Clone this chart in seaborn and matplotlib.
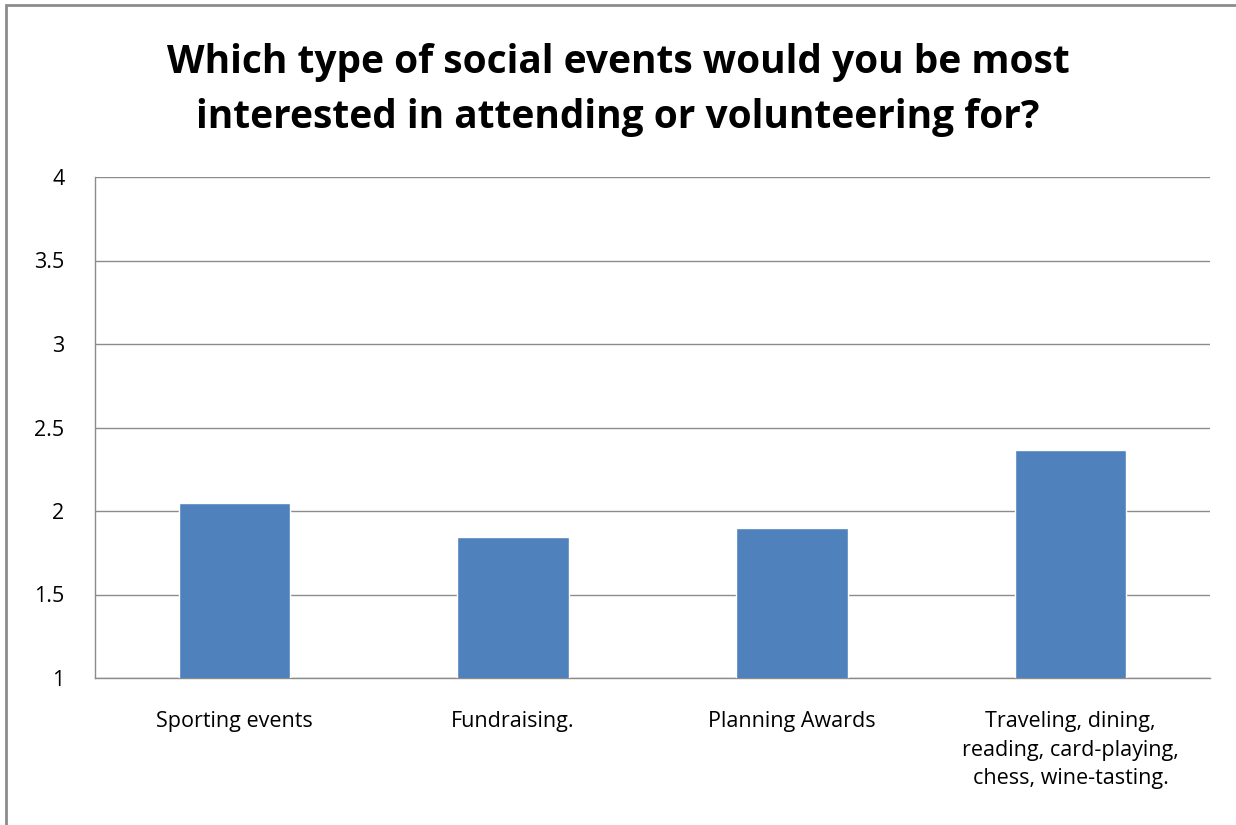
import pandas as pd
import seaborn as sns
import matplotlib.pyplot as plt
from matplotlib.patches import Rectangle

# Datos
categorias = ["Sporting events", "Fundraising.", "Planning Awards",
              "Traveling, dining,\nreading, card-playing,\nchess, wine-tasting."]
valores = [2.048, 1.844, 1.898, 2.365]
ticks_y = [1, 1.5, 2, 2.5, 3, 3.5, 4]

df = pd.DataFrame({"categoria": categorias, "valor": valores})

sns.set_theme(style="white")
plt.rcParams['font.family'] = ['Open Sans', 'DejaVu Sans']
plt.rcParams['text.color'] = 'black'
plt.rcParams['xtick.color'] = 'black'
plt.rcParams['ytick.color'] = 'black'

fig = plt.figure(figsize=(12.36, 8.25), dpi=100)
ax = fig.add_axes([95 / 1236, 1 - 678 / 825, (1210 - 95) / 1236, (678 - 177) / 825])

sns.barplot(data=df, x="categoria", y="valor", color="#4F81BD", saturation=1,
            width=0.4, ax=ax, zorder=3, bottom=0)
ax.set_ylim(1, 4)
ax.set_yticks(ticks_y)
ax.set_yticklabels([f"{t:g}" for t in ticks_y], fontsize=15.5)
ax.set_xticks(range(len(categorias)))
ax.set_xticklabels(categorias, fontsize=15.5, linespacing=1.45, va="top")
ax.tick_params(axis="x", pad=24, length=0)
ax.tick_params(axis="y", pad=22, length=0)
ax.set_xlabel("")
ax.set_ylabel("")
ax.yaxis.grid(True, color="#8c8c8c", linewidth=1)
ax.set_axisbelow(True)
for s in ["top", "right"]:
    ax.spines[s].set_visible(False)
for s in ["left", "bottom"]:
    ax.spines[s].set_color("#8c8c8c")
    ax.spines[s].set_linewidth(1)

fig.text(0.5, 1 - 90 / 825, "Which type of social events would you be most\ninterested in attending or volunteering for?",
         ha="center", va="center", fontsize=28, fontweight="bold", linespacing=1.55)

# marco del grafico
fig.patches.append(Rectangle((6 / 1236, -0.01), 1.1, 1 - 5 / 825 + 0.01, transform=fig.transFigure,
                             fill=False, edgecolor="#8c8c8c", linewidth=2))

fig.savefig("out.png", dpi=100)
plt.close()
